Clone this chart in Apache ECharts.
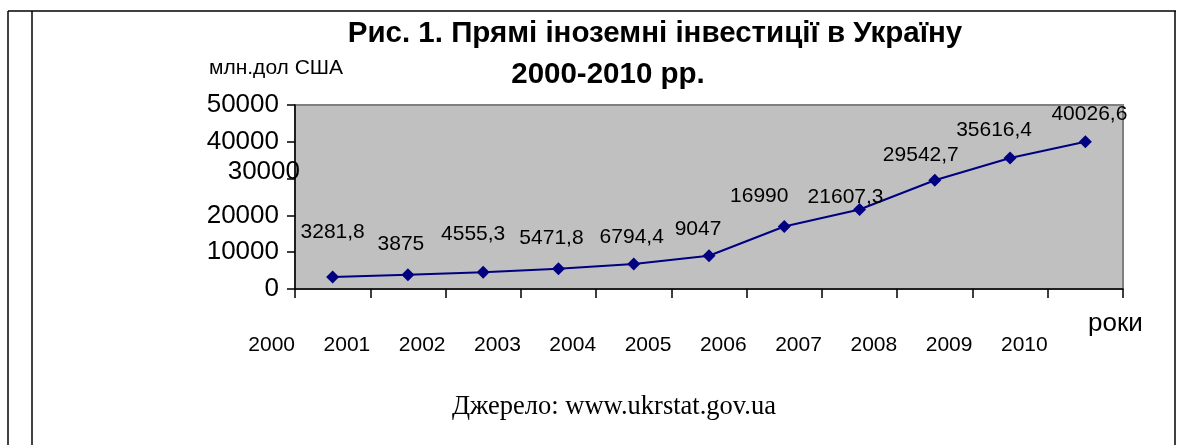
<!DOCTYPE html>
<html>
<head>
<meta charset="utf-8">
<script src="https://cdn.jsdelivr.net/npm/echarts/dist/echarts.min.js"></script>
<style>
  html, body { margin: 0; padding: 0; background: #fff; }
  #chart { width: 1184px; height: 445px; }
</style>
</head>
<body>
<div id="chart"></div>
<script>
// дані
const years = ['2000', '2001', '2002', '2003', '2004', '2005', '2006', '2007', '2008', '2009', '2010'];
const investments = [3281.8, 3875, 4555.3, 5471.8, 6794.4, 9047, 16990, 21607.3, 29542.7, 35616.4, 40026.6];
const yMin = 0;
const yMax = 50000;
const yStep = 10000;

// ручне зміщення підписів точок (як у Excel)
const labelNudge = [[0, -45], [-7, -31], [-10, -38], [-7, -31], [-2, -27], [-11, -27],
                    [-25, -30], [-14, -12], [-14, -25], [-16, -28], [4, -27]];

const sans = 'Liberation Sans, Arial, sans-serif';
const serif = 'Liberation Serif, Times New Roman, serif';

const myChart = echarts.init(document.getElementById('chart'));

const option = {
    animation: false,
    backgroundColor: '#fff',
    grid: {
        left: 295,
        right: 61,
        top: 105,
        bottom: 156,
        show: true,
        backgroundColor: '#c0c0c0',
        borderColor: '#808080',
        borderWidth: 2
    },
    xAxis: {
        type: 'category',
        data: years,
        boundaryGap: true,
        axisLine: { show: true, lineStyle: { color: '#000', width: 1.5 } },
        axisTick: { show: true, length: 9, interval: 0, lineStyle: { color: '#000', width: 1.5 } },
        axisLabel: {
            interval: 0,
            margin: 46,
            formatter: v => '{s|' + v + '}',
            rich: {
                s: { fontSize: 21, fontFamily: sans, color: '#000', padding: [0, 122, 0, 0] }
            }
        }
    },
    yAxis: {
        type: 'value',
        min: yMin,
        max: yMax,
        interval: yStep,
        axisLine: { show: true, lineStyle: { color: '#000', width: 1.5 } },
        axisTick: { show: true, length: 8, lineStyle: { color: '#000', width: 1.5 } },
        splitLine: { show: false },
        axisLabel: {
            margin: 16,
            fontSize: 26,
            fontFamily: sans,
            color: '#000',
            // 30000 в оригіналі зсунуто, малюємо окремо
            formatter: v => (v === 30000 ? '' : String(v))
        }
    },
    series: [
        {
            type: 'line',
            data: investments.map((v, i) => ({ value: v, label: { offset: labelNudge[i] } })),
            symbol: 'diamond',
            symbolSize: 13,
            itemStyle: { color: '#000080' },
            lineStyle: { color: '#000080', width: 2 },
            label: {
                show: true,
                position: 'inside',
                fontSize: 21,
                fontFamily: sans,
                color: '#000',
                formatter: p => String(p.value).replace('.', ',')
            }
        }
    ],
    graphic: [
        // рамка таблиці
        { type: 'line', shape: { x1: 8, y1: 11, x2: 1176, y2: 11 }, style: { stroke: '#000', lineWidth: 1.5 } },
        { type: 'line', shape: { x1: 8, y1: 11, x2: 8, y2: 445 }, style: { stroke: '#000', lineWidth: 1.5 } },
        { type: 'line', shape: { x1: 32, y1: 11, x2: 32, y2: 445 }, style: { stroke: '#000', lineWidth: 1.5 } },
        { type: 'line', shape: { x1: 1175, y1: 11, x2: 1175, y2: 445 }, style: { stroke: '#000', lineWidth: 1.5 } },
        // заголовок
        {
            type: 'text', x: 655, y: 34,
            style: { text: 'Рис. 1. Прямі іноземні інвестиції в Україну', font: 'bold 29.5px ' + sans, fill: '#000', textAlign: 'center', textVerticalAlign: 'middle' }
        },
        {
            type: 'text', x: 608, y: 75,
            style: { text: '2000-2010 рр.', font: 'bold 29.5px ' + sans, fill: '#000', textAlign: 'center', textVerticalAlign: 'middle' }
        },
        {
            type: 'text', x: 209, y: 68,
            style: { text: 'млн.дол США', font: '21px ' + sans, fill: '#000', textAlign: 'left', textVerticalAlign: 'middle' }
        },
        {
            type: 'text', x: 300, y: 172, z: 10,
            style: { text: '30000', font: '26px ' + sans, fill: '#000', textAlign: 'right', textVerticalAlign: 'middle' }
        },
        {
            type: 'text', x: 1088, y: 324,
            style: { text: 'роки', font: '26px ' + sans, fill: '#000', textAlign: 'left', textVerticalAlign: 'middle' }
        },
        {
            type: 'text', x: 614, y: 407,
            style: { text: 'Джерело: www.ukrstat.gov.ua', font: '26.5px ' + serif, fill: '#000', textAlign: 'center', textVerticalAlign: 'middle' }
        }
    ]
};

myChart.setOption(option);
</script>
</body>
</html>
